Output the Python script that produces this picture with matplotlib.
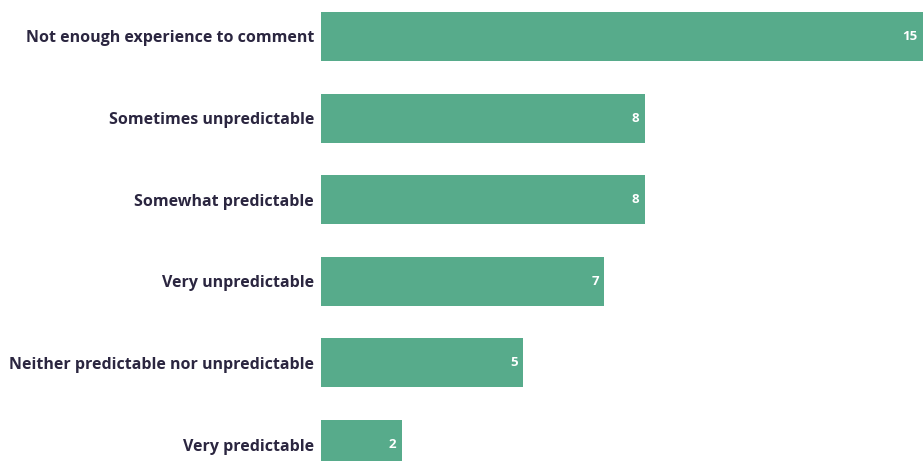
import matplotlib
matplotlib.use("Agg")
import matplotlib.pyplot as plt

categories = [
    "Not enough experience to comment",
    "Sometimes unpredictable",
    "Somewhat predictable",
    "Very unpredictable",
    "Neither predictable nor unpredictable",
    "Very predictable",
]
counts = [15, 8, 8, 7, 5, 2]

bar_color = "#57ab8b"
text_color = "#2b2640"

plt.rcParams["font.family"] = ["Open Sans", "DejaVu Sans"]

fig = plt.figure(figsize=(9.23, 4.61), dpi=100)
ax = fig.add_axes([321 / 923, 0, 602 / 923, 1])

pos = list(range(len(categories)))
ax.barh(pos, counts, height=0.6, color=bar_color)
ax.set_xlim(0, 14.88)
ax.set_ylim(5.202, -0.447)

for y, v in zip(pos, counts):
    ax.annotate(str(v), xy=(min(v, 14.88), y), xytext=(-4, 0), textcoords="offset points",
                ha="right", va="center", color="white", fontsize=9.5, fontweight="bold",
                annotation_clip=False)

ax.set_yticks(pos)
ax.set_yticklabels(categories, fontsize=11.5, fontweight="bold", color=text_color)
ax.tick_params(axis="y", length=0, pad=5)
ax.set_xticks([])
for s in ax.spines.values():
    s.set_visible(False)

fig.savefig("out.png", dpi=100)
